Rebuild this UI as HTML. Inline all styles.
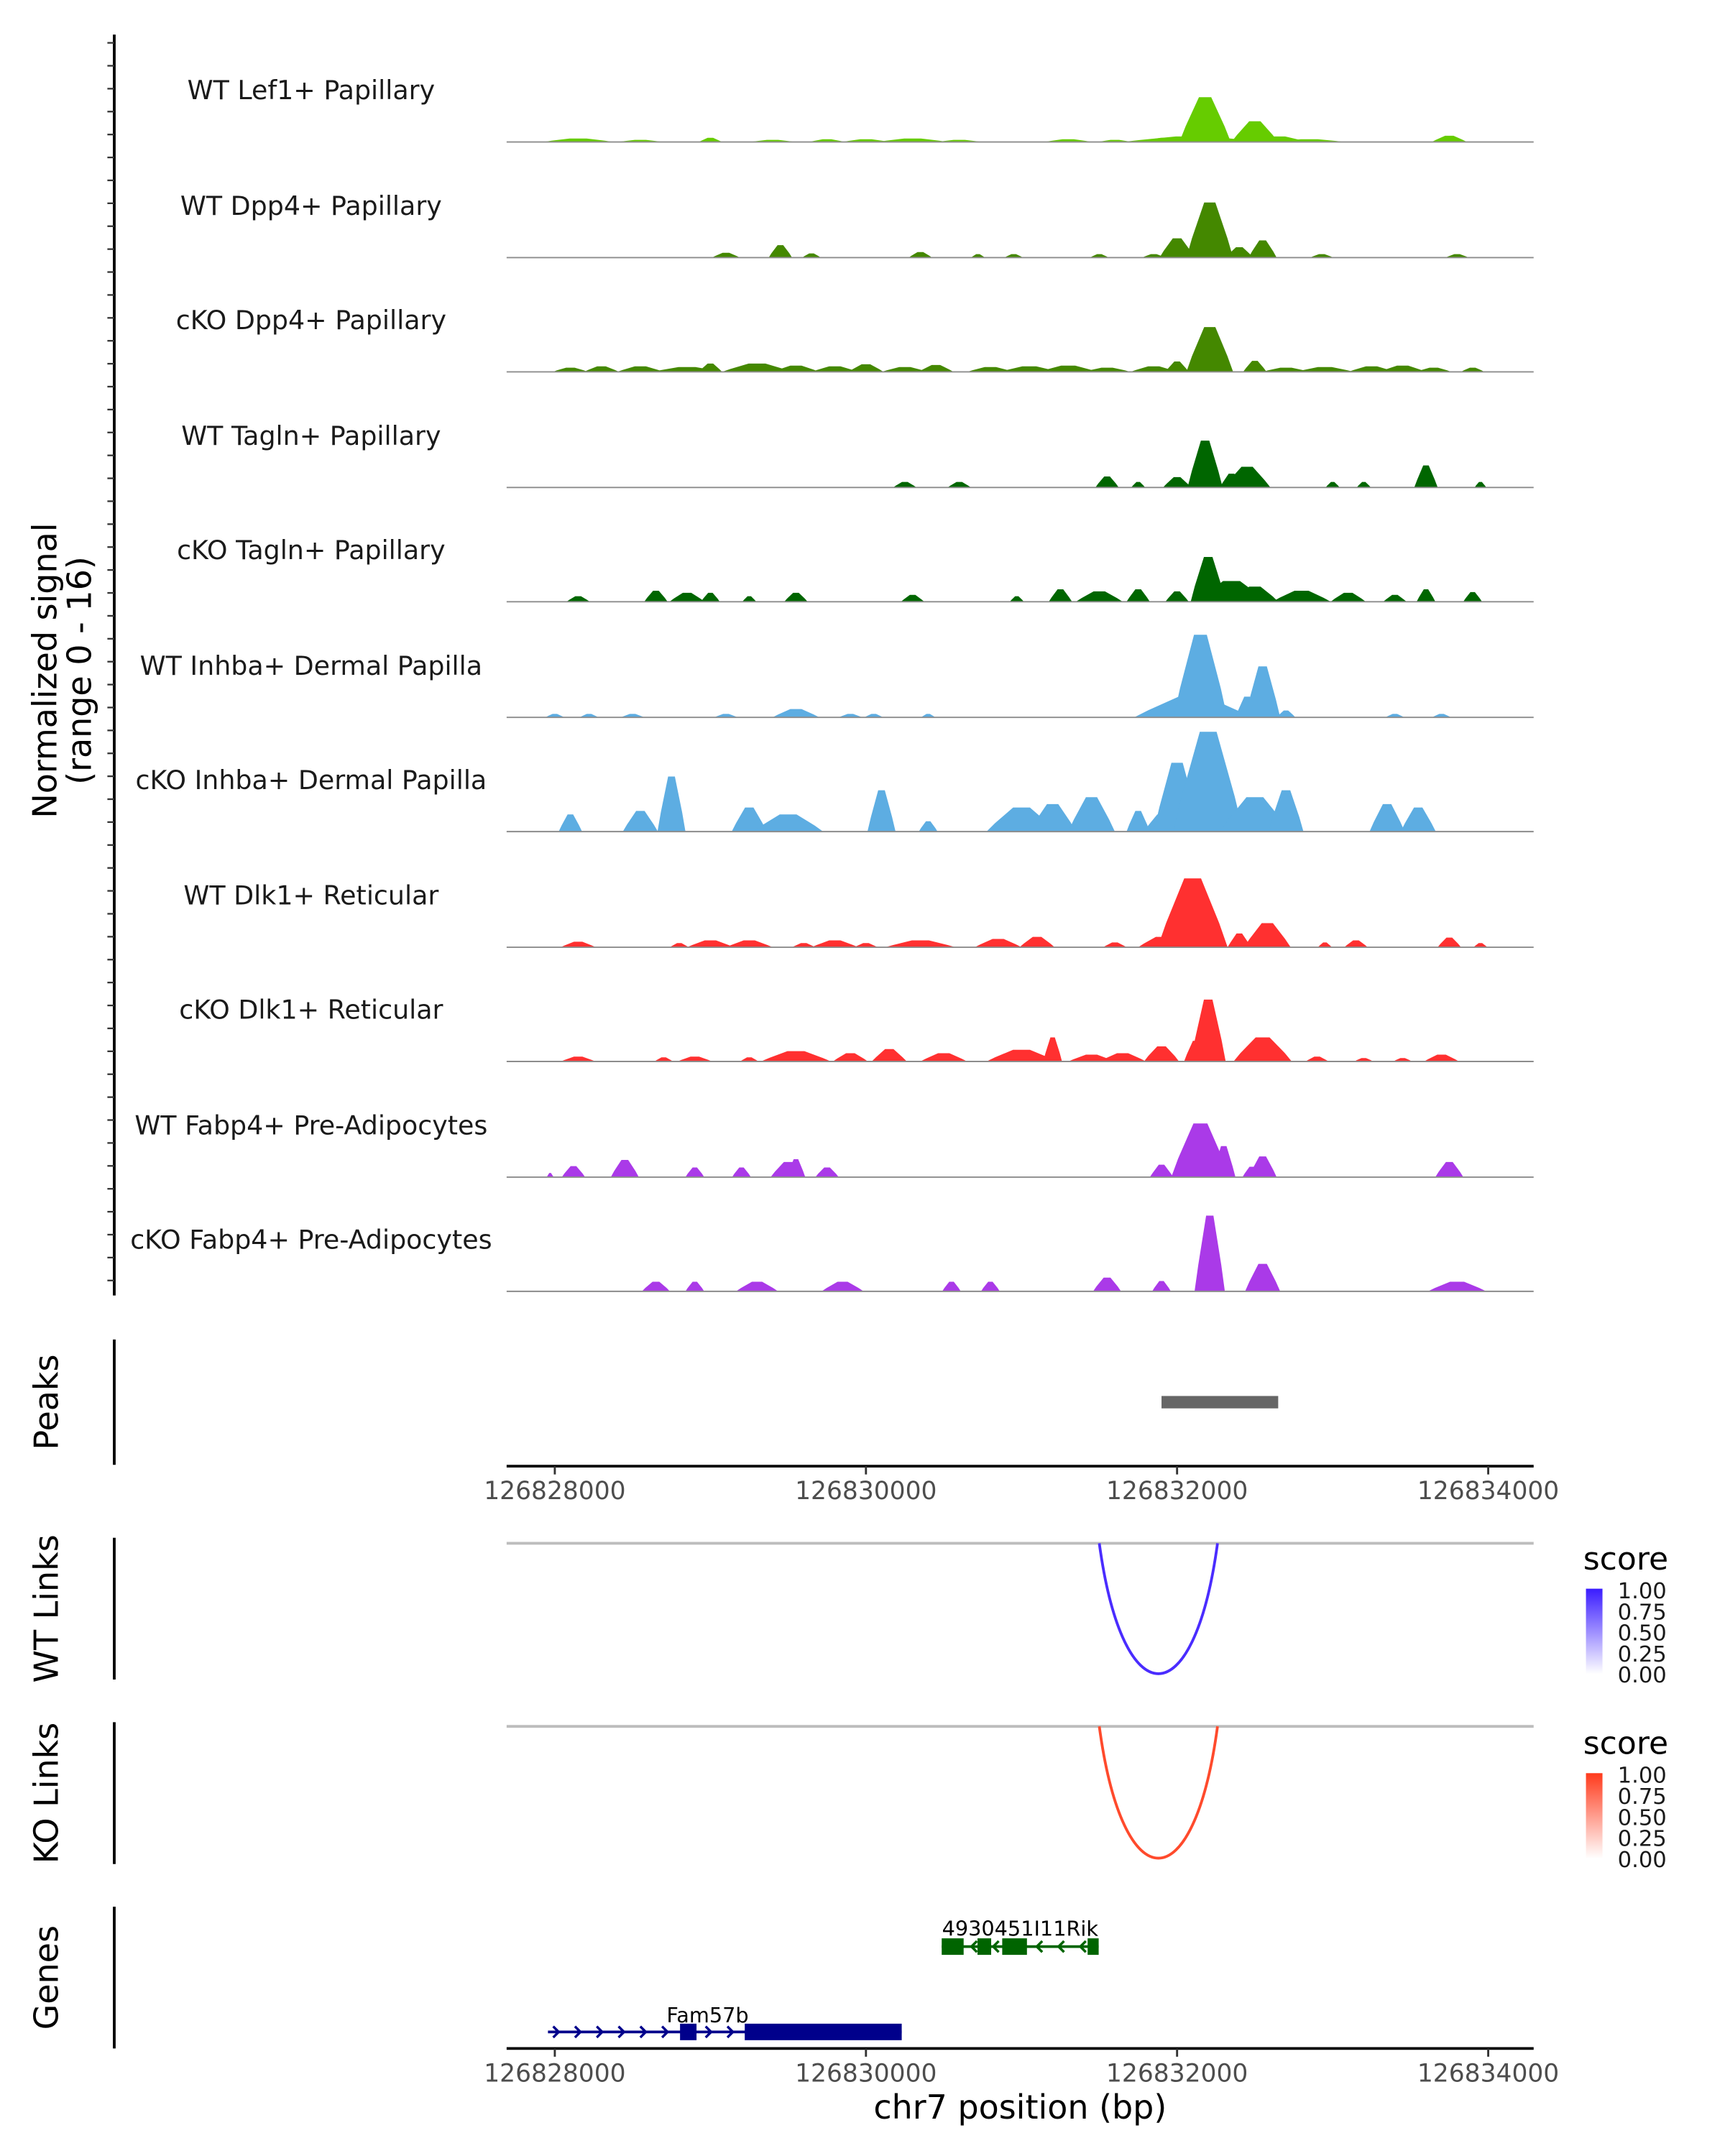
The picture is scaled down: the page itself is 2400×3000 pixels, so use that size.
<!DOCTYPE html>
<html><head><meta charset="utf-8"><style>
html,body{margin:0;padding:0;background:#fff}
svg{display:block}
text{font-family:"DejaVu Sans","Liberation Sans",sans-serif}
</style></head><body>
<svg id="chart" width="2400" height="3000" viewBox="0 0 1253 1566" xmlns="http://www.w3.org/2000/svg">
<defs>
<linearGradient id="gBlue" x1="0" y1="1" x2="0" y2="0"><stop offset="0" stop-color="#ffffff"/><stop offset="1" stop-color="#3a1cff"/></linearGradient>
<linearGradient id="gRed" x1="0" y1="1" x2="0" y2="0"><stop offset="0" stop-color="#ffffff"/><stop offset="1" stop-color="#ff3a1c"/></linearGradient>
</defs>
<g id="tracks"></g>
<g id="axes"></g>
</svg>
<script>
const trackNames = ["WT Lef1+ Papillary","WT Dpp4+ Papillary","cKO Dpp4+ Papillary","WT Tagln+ Papillary","cKO Tagln+ Papillary","WT Inhba+ Dermal Papilla","cKO Inhba+ Dermal Papilla","WT Dlk1+ Reticular","cKO Dlk1+ Reticular","WT Fabp4+ Pre-Adipocytes","cKO Fabp4+ Pre-Adipocytes"];
const trackColors = ["#66cc00","#448800","#448800","#006600","#006600","#5dade2","#5dade2","#ff3030","#ff3030","#aa3ae8","#aa3ae8"];
// peaks per track: [offset bp from 126828000, width bp, signal]
const peaksLef1 = [[150,300,0.5],[550,200,0.3],[1000,100,0.6],[1400,200,0.3],[1750,150,0.4],[2000,200,0.4],[2300,300,0.5],[2600,200,0.3],[3300,200,0.4],[3600,150,0.3],[3950,300,0.6],[4100,600,0.8],[4180,220,6.5],[4500,200,3],[4650,250,0.8],[4850,300,0.4],[5750,150,0.9]];
const peaksDpp4WT = [[1100,120,0.7],[1450,100,1.8],[1650,80,0.6],[2350,100,0.8],[2720,60,0.5],[2950,80,0.5],[3500,80,0.5],[3850,100,0.5],[4000,150,2.8],[4210,200,8],[4400,120,1.5],[4550,120,2.5],[4930,100,0.5],[5800,100,0.5]];
const peaksDpp4KO = [[100,150,0.6],[300,150,0.8],[550,200,0.8],[850,300,0.7],[1000,100,1.2],[1300,300,1.2],[1550,200,0.9],[1800,200,0.8],[2000,150,1.1],[2250,200,0.7],[2450,150,1.0],[2800,200,0.7],[3050,250,0.8],[3300,250,0.9],[3550,200,0.6],[3850,200,0.8],[4000,100,1.5],[4210,200,6.5],[4500,100,1.6],[4700,200,0.6],[4950,250,0.7],[5250,200,0.8],[5450,200,0.9],[5650,150,0.6],[5900,100,0.6]];
const peaksTaglnWT = [[2250,100,0.8],[2600,100,0.8],[3550,100,1.6],[3750,60,0.8],[4000,120,1.5],[4180,150,6.8],[4350,100,2],[4450,200,3],[5000,60,0.8],[5200,60,0.8],[5600,100,3.2],[5950,50,0.8]];
const peaksTaglnKO = [[150,100,0.8],[650,100,1.6],[850,150,1.3],[1000,80,1.3],[1250,60,0.8],[1550,100,1.3],[2300,100,1.0],[2970,60,0.8],[3250,100,1.8],[3500,200,1.5],[3750,100,1.8],[4000,100,1.5],[4200,150,6.5],[4350,300,3],[4500,200,2.2],[4800,250,1.6],[5100,150,1.3],[5400,100,1.0],[5600,80,1.8],[5900,80,1.4]];
const peaksInhbaWT = [[0,80,0.5],[220,80,0.5],[500,100,0.5],[1100,100,0.5],[1550,200,1.2],[1900,100,0.5],[2050,80,0.5],[2400,60,0.5],[3900,100,0.8],[4100,500,3],[4150,230,12],[4450,100,3],[4550,150,7.4],[4700,80,1],[5400,80,0.5],[5700,80,0.5]];
const peaksInhbaKO = [[100,100,2.5],[550,150,3],[750,120,8],[1250,150,3.5],[1500,300,2.5],[2100,120,6],[2400,80,1.5],[2850,100,1],[3000,300,3.5],[3200,200,4],[3450,200,5],[3750,100,3],[3900,150,2.5],[4000,200,10],[4200,300,14.5],[4500,300,5],[4700,150,6],[5350,150,4],[5550,150,3.5]];
const peaksDlk1WT = [[150,150,0.8],[800,80,0.6],[1000,200,1],[1250,200,1],[1600,100,0.6],[1800,200,1],[2000,100,0.6],[2350,300,1],[2850,200,1.2],[3100,150,1.5],[3600,100,0.7],[3900,200,1.5],[4100,300,10],[4400,100,2],[4580,200,3.5],[4950,60,0.7],[5150,100,1],[5750,100,1.4],[5950,60,0.6]];
const peaksDlk1KO = [[150,150,0.7],[700,80,0.6],[900,150,0.7],[1250,80,0.6],[1550,300,1.5],[1900,150,1.2],[2150,150,1.8],[2500,200,1.2],[3000,300,1.7],[3200,80,3.5],[3450,200,1],[3650,200,1.2],[3900,150,2.2],[4120,100,3],[4200,150,9],[4550,250,3.5],[4900,100,0.7],[5200,80,0.5],[5450,80,0.5],[5700,150,1]];
const peaksFabp4WT = [[-30,30,0.6],[120,100,1.6],[450,120,2.5],[900,80,1.4],[1200,80,1.4],[1500,150,2.2],[1550,80,2.6],[1750,100,1.4],[3900,100,1.8],[4150,250,7.8],[4300,100,4.5],[4480,80,1.5],[4550,120,3],[5750,120,2.2]];
const peaksFabp4KO = [[650,120,1.4],[900,80,1.4],[1300,180,1.4],[1850,180,1.4],[2550,80,1.4],[2800,80,1.4],[3550,120,2],[3900,80,1.5],[4210,130,11],[4550,150,4],[5800,250,1.4]];
const allPeaks = [peaksLef1,peaksDpp4WT,peaksDpp4KO,peaksTaglnWT,peaksTaglnKO,peaksInhbaWT,peaksInhbaKO,peaksDlk1WT,peaksDlk1KO,peaksFabp4WT,peaksFabp4KO];
const xTicks = [126828000,126830000,126832000,126834000];
const peakRegion = [126831900,126832650];
const linkWT = [126831500,126832260,1.0];
const linkKO = [126831500,126832260,1.0];
const scoreTicks = ["1.00","0.75","0.50","0.25","0.00"];
const geneRik = {name:"4930451I11Rik",start:126830487,end:126831496,exons:[[126830487,126830628],[126830717,126830805],[126830876,126831035],[126831425,126831496]]};
const geneFam = {name:"Fam57b",start:126827956,end:126830230,exons:[[126828805,126828911],[126829221,126830230]]};

const NS="http://www.w3.org/2000/svg";
const BASE=126828000;
const X=bp=>403+(bp-BASE)*0.113;
const YSCALE=5;
const tg=document.getElementById('tracks'), ag=document.getElementById('axes');
function mk(tag,attrs,parent,txt){const e=document.createElementNS(NS,tag);for(const k in attrs)e.setAttribute(k,attrs[k]);if(txt!==undefined)e.textContent=txt;parent.appendChild(e);return e;}
const baselines=[103,187,270,354,437,521,604,688,771,855,938];
allPeaks.forEach((pk,i)=>{
  const b=baselines[i];
  const g=mk('g',{},tg);
  
  
  const lab=mk('text',{x:226,y:b-31,'text-anchor':'middle','font-size':19,fill:'#1a1a1a'},g,trackNames[i]);
  
  
  pk.forEach(p=>{
    const c=BASE+p[0],w=p[1]*1.5,h=Math.min(p[2]*YSCALE,80);
    const pts=[[X(c-w/2),b],[X(c-w*0.38),b-h*0.35],[X(c-w*0.12),b-h],[X(c+w*0.12),b-h],[X(c+w*0.38),b-h*0.35],[X(c+w/2),b]].map(q=>q[0].toFixed(1)+','+q[1].toFixed(1)).join(' ');
    const poly=mk('polygon',{points:pts,fill:trackColors[i]},g);
    
    
  });
  const bl=mk('line',{x1:368,x2:1114,y1:b,y2:b,stroke:'#8c8c8c','stroke-width':1},g);
  
  
});
mk('line',{x1:83,x2:83,y1:25,y2:941,stroke:'#000','stroke-width':2},ag);
for(let y=31;y<941;y+=16.65){mk('line',{x1:78,x2:83,y1:y,y2:y,stroke:'#333','stroke-width':1.2},ag);}
const yt=mk('text',{transform:'translate(41,487) rotate(-90)','text-anchor':'middle','font-size':24,fill:'#000'},ag,'Normalized signal');

mk('text',{transform:'translate(66,487) rotate(-90)','text-anchor':'middle','font-size':24,fill:'#000'},ag,'(range 0 - 16)');
function panel(y1,y2,label,name){
  mk('line',{x1:83,x2:83,y1:y1,y2:y2,stroke:'#000','stroke-width':2},ag);
  const t=mk('text',{transform:`translate(42,${(y1+y2)/2}) rotate(-90)`,'text-anchor':'middle','font-size':24,fill:'#000'},ag,label);
  
  
}
panel(973,1064,'Peaks','peaks-panel-title');
panel(1117,1220,'WT Links','wt-links-title');
panel(1251,1354,'KO Links','ko-links-title');
panel(1385,1488,'Genes','genes-panel-title');
const pr=mk('rect',{x:X(peakRegion[0]),y:1014,width:X(peakRegion[1])-X(peakRegion[0]),height:9,fill:'#666'},ag);

function xaxis(y){
  mk('line',{x1:368,x2:1114,y1:y,y2:y,stroke:'#000','stroke-width':2},ag);
  xTicks.forEach(t=>{
    mk('line',{x1:X(t),x2:X(t),y1:y,y2:y+6,stroke:'#333','stroke-width':1.5},ag);
    const tl=mk('text',{x:X(t),y:y+24,'text-anchor':'middle','font-size':18,fill:'#4d4d4d'},ag,String(t));
    
  });
}
xaxis(1065);xaxis(1488);
const xt=mk('text',{x:741,y:1539,'text-anchor':'middle','font-size':24,fill:'#000'},ag,'chr7 position (bp)');

function links(base,bottom,lk,color,grad,ly){
  mk('line',{x1:368,x2:1114,y1:base,y2:base,stroke:'#bdbdbd','stroke-width':2},ag);
  const x1=X(lk[0]),x2=X(lk[1]),mx=(x1+x2)/2,d=(bottom-base)*lk[2];
  const a=mk('path',{d:`M${x1},${base} C${x1+(mx-x1)*0.4},${base+d*1.33} ${x2-(x2-mx)*0.4},${base+d*1.33} ${x2},${base}`,fill:'none',stroke:color,'stroke-width':2},ag);
  
  mk('text',{x:1150,y:ly,'font-size':23,fill:'#000'},ag,'score');
  const cb=mk('rect',{x:1152,y:ly+14,width:12,height:62,fill:`url(#${grad})`},ag);
  
  scoreTicks.forEach((s,i)=>{mk('text',{x:1175,y:ly+21+i*15.3,'font-size':16,fill:'#1a1a1a'},ag,s);});
}
links(1121,1216,linkWT,'#4a2cff','gBlue',1140);
links(1254,1350,linkKO,'#ff4a2c','gRed',1274);
function gene(g,y,color,dir,lx,ly){
  const gg=mk('g',{},ag);
  
  
  mk('line',{x1:X(g.start),x2:X(g.end),y1:y,y2:y,stroke:color,'stroke-width':2},gg);
  for(let bp=g.start+60;bp<g.end-40;bp+=140){
    const cx=X(bp);
    mk('path',{d:dir>0?`M${cx-3},${y-4} L${cx+1},${y} L${cx-3},${y+4}`:`M${cx+3},${y-4} L${cx-1},${y} L${cx+3},${y+4}`,fill:'none',stroke:color,'stroke-width':1.8},gg);
  }
  g.exons.forEach(e=>{mk('rect',{x:X(e[0]),y:y-6,width:X(e[1])-X(e[0]),height:12,fill:color},gg);});
  mk('text',{x:lx,y:ly,'text-anchor':'middle','font-size':15,fill:'#000'},gg,g.name);
}
gene(geneRik,1414,'#006400',-1,741,1406);
gene(geneFam,1476,'#00008b',1,514,1469);
</script>
</body></html>
